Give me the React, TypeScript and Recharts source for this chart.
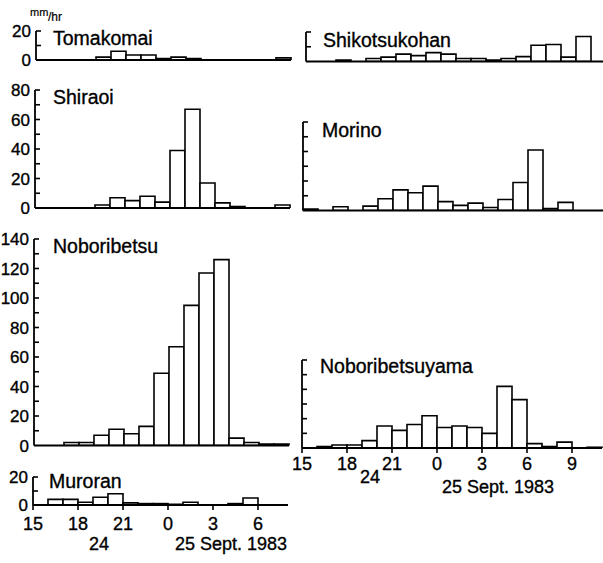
import React from 'react';
import { BarChart, Bar, XAxis, YAxis } from 'recharts';

// hourly bins (start hour; 24 = 0h on 25 Sept.)
const leftHours = [15, 16, 17, 18, 19, 20, 21, 22, 23, 24, 25, 26, 27, 28, 29, 30, 31];
const rightHours = [15, 16, 17, 18, 19, 20, 21, 22, 23, 24, 25, 26, 27, 28, 29, 30, 31, 32, 33, 34];

const leftXTicks = [15, 18, 21, 24, 27, 30];
const rightXTicks = [15, 18, 21, 24, 27, 30, 33];

const yTicks20 = [0, 10, 20];
const yTicks60 = [0, 10, 20, 30, 40, 50, 60];
const yTicks80 = [0, 10, 20, 30, 40, 50, 60, 70, 80];
const yTicks140 = [0, 10, 20, 30, 40, 50, 60, 70, 80, 90, 100, 110, 120, 130, 140];

// rainfall intensity, mm/hr
const tomakomai = [0, 0, 0, 0, 2, 6, 3.5, 3.5, 1, 2, 1, 0, 0, 0, 0, 0, 1.5];
const shiraoi = [0, 0, 0, 0, 2, 7, 5, 8, 4, 39, 67, 17, 3.5, 1, 0, 0, 2];
const noboribetsu = [0, 0, 2, 2, 7, 11, 8, 13, 49, 67, 95, 117, 126, 5, 2, 1, 1];
const muroran = [0, 4, 4, 2, 5.5, 8, 1.5, 1, 1, 0.5, 2, 0, 0, 1, 5, 0, 0];

const shikotsukohan = [0, 0, 1, 0, 2, 3, 5, 4, 6, 5, 2, 2, 1, 2, 3.3, 11, 11.5, 3, 17, 0];
const morino = [1, 0, 2.5, 0, 3, 8, 14, 12, 16.5, 6, 3.5, 5, 2, 7.5, 19, 41, 1.3, 5.5, 0, 0];
const noboribetsuyama = [0, 1, 2, 2, 5, 15, 12, 16, 22, 14, 15, 14, 10, 42, 33, 3, 1, 4, 0, 0.5];

const FONT = '"Liberation Sans", Arial, Helvetica, sans-serif';
const YW = 40;
const MT = 14;
const TS = 0.35; // slight text stroke to mimic the heavy print

type PanelProps = {
  hours: number[];
  values: number[];
  left: number;
  top: number;
  plotH: number;
  plotW: number;
  yMax: number;
  yTicks: number[];
  yLabels: boolean;
  xMax: number;
  xTicks?: number[];
  tickMargin?: number;
};

function makeYTick(showLabels: boolean) {
  return (props: any) => {
    const { y, payload } = props;
    const v = payload.value;
    return (
      <g>
        {v !== 0 ? <line x1={YW} x2={YW + 5} y1={y} y2={y} stroke="#000" strokeWidth={1.6} /> : null}
        {showLabels && v % 20 === 0 ? (
          <text
            x={YW - 5}
            y={y}
            dy="0.36em"
            textAnchor="end"
            fontSize={17}
            fontFamily={FONT}
            fill="#000"
            stroke="#000"
            strokeWidth={TS}
          >
            {v}
          </text>
        ) : null}
      </g>
    );
  };
}

function Panel(p: PanelProps) {
  const data = p.hours.map((h, i) => ({ h, v: p.values[i] }));
  const xH = p.xTicks ? 40 : 12;
  const w = YW + p.plotW + 2;
  const hgt = MT + p.plotH + xH;
  return (
    <div style={{ position: 'absolute', left: p.left - YW, top: p.top - MT }}>
      <BarChart
        width={w}
        height={hgt}
        data={data}
        margin={{ top: MT, right: 2, bottom: 0, left: 0 }}
        barCategoryGap={0}
        barGap={0}
      >
        <XAxis
          xAxisId="n"
          dataKey="h"
          type="number"
          domain={[15, p.xMax]}
          allowDataOverflow
          ticks={p.xTicks ?? []}
          interval={0}
          height={xH}
          tick={
            p.xTicks
              ? { fontSize: 18, fontFamily: FONT, fill: '#000', stroke: '#000', strokeWidth: TS }
              : false
          }
          tickLine={p.xTicks ? { stroke: '#000', strokeWidth: 1.6 } : false}
          tickSize={5}
          tickMargin={p.tickMargin ?? 4}
          tickFormatter={(v: number) => String(v % 24)}
          axisLine={{ stroke: '#000', strokeWidth: 1.8 }}
        />
        <XAxis xAxisId="c" dataKey="h" type="category" hide height={0} />
        <YAxis
          width={YW}
          domain={[0, p.yMax]}
          ticks={p.yTicks}
          interval={0}
          allowDataOverflow
          tickLine={false}
          tickSize={0}
          tickMargin={5}
          tick={makeYTick(p.yLabels)}
          axisLine={{ stroke: '#000', strokeWidth: 1.8 }}
        />
        <Bar
          xAxisId="c"
          dataKey="v"
          fill="#fff"
          stroke="#000"
          strokeWidth={1.6}
          isAnimationActive={false}
        />
      </BarChart>
    </div>
  );
}

export default function App() {
  return (
    <div
      style={{
        position: 'absolute',
        left: 0,
        top: 0,
        width: 603,
        height: 563,
        overflow: 'hidden',
        background: '#fff',
        fontFamily: FONT,
      }}
    >
      <Panel hours={leftHours} values={tomakomai} left={36} top={31} plotH={29} plotW={255} yMax={20} yTicks={yTicks20} yLabels xMax={32} />
      <Panel hours={leftHours} values={shiraoi} left={35} top={90} plotH={118} plotW={255} yMax={80} yTicks={yTicks80} yLabels xMax={32} />
      <Panel hours={leftHours} values={noboribetsu} left={34} top={239} plotH={206.5} plotW={255} yMax={140} yTicks={yTicks140} yLabels xMax={32} />
      <Panel hours={leftHours} values={muroran} left={33} top={477} plotH={28} plotW={255} yMax={20} yTicks={yTicks20} yLabels xMax={32} xTicks={leftXTicks} tickMargin={7} />

      <Panel hours={rightHours} values={shikotsukohan} left={306} top={32} plotH={29.5} plotW={300} yMax={20} yTicks={yTicks20} yLabels={false} xMax={35} />
      <Panel hours={rightHours} values={morino} left={303} top={122} plotH={88.5} plotW={300} yMax={60} yTicks={yTicks60} yLabels={false} xMax={35} />
      <Panel hours={rightHours} values={noboribetsuyama} left={302} top={360} plotH={88} plotW={300} yMax={60} yTicks={yTicks60} yLabels={false} xMax={35} xTicks={rightXTicks} tickMargin={4} />

      <svg
        width={603}
        height={563}
        style={{ position: 'absolute', left: 0, top: 0, pointerEvents: 'none' }}
      >
        <g fontFamily={FONT} fill="#000" stroke="#000" strokeWidth={TS}>
          <text x={30} y={16} fontSize={11} strokeWidth={0.2}>mm</text>
          <text x={48} y={21} fontSize={12} strokeWidth={0.2}>/hr</text>

          <text x={53} y={45} fontSize={19.5}>Tomakomai</text>
          <text x={53} y={104} fontSize={19.5}>Shiraoi</text>
          <text x={53} y={253} fontSize={19.5}>Noboribetsu</text>
          <text x={49} y={488} fontSize={19.5}>Muroran</text>

          <text x={323} y={47} fontSize={19.5}>Shikotsukohan</text>
          <text x={322} y={137} fontSize={19.5}>Morino</text>
          <text x={320} y={373} fontSize={19.5}>Noboribetsuyama</text>

          <text x={99} y={550} fontSize={18} textAnchor="middle">24</text>
          <text x={175} y={550} fontSize={18}>25 Sept. 1983</text>

          <text x={370} y={483} fontSize={18} textAnchor="middle">24</text>
          <text x={442} y={493} fontSize={18}>25 Sept. 1983</text>
        </g>
      </svg>
    </div>
  );
}
